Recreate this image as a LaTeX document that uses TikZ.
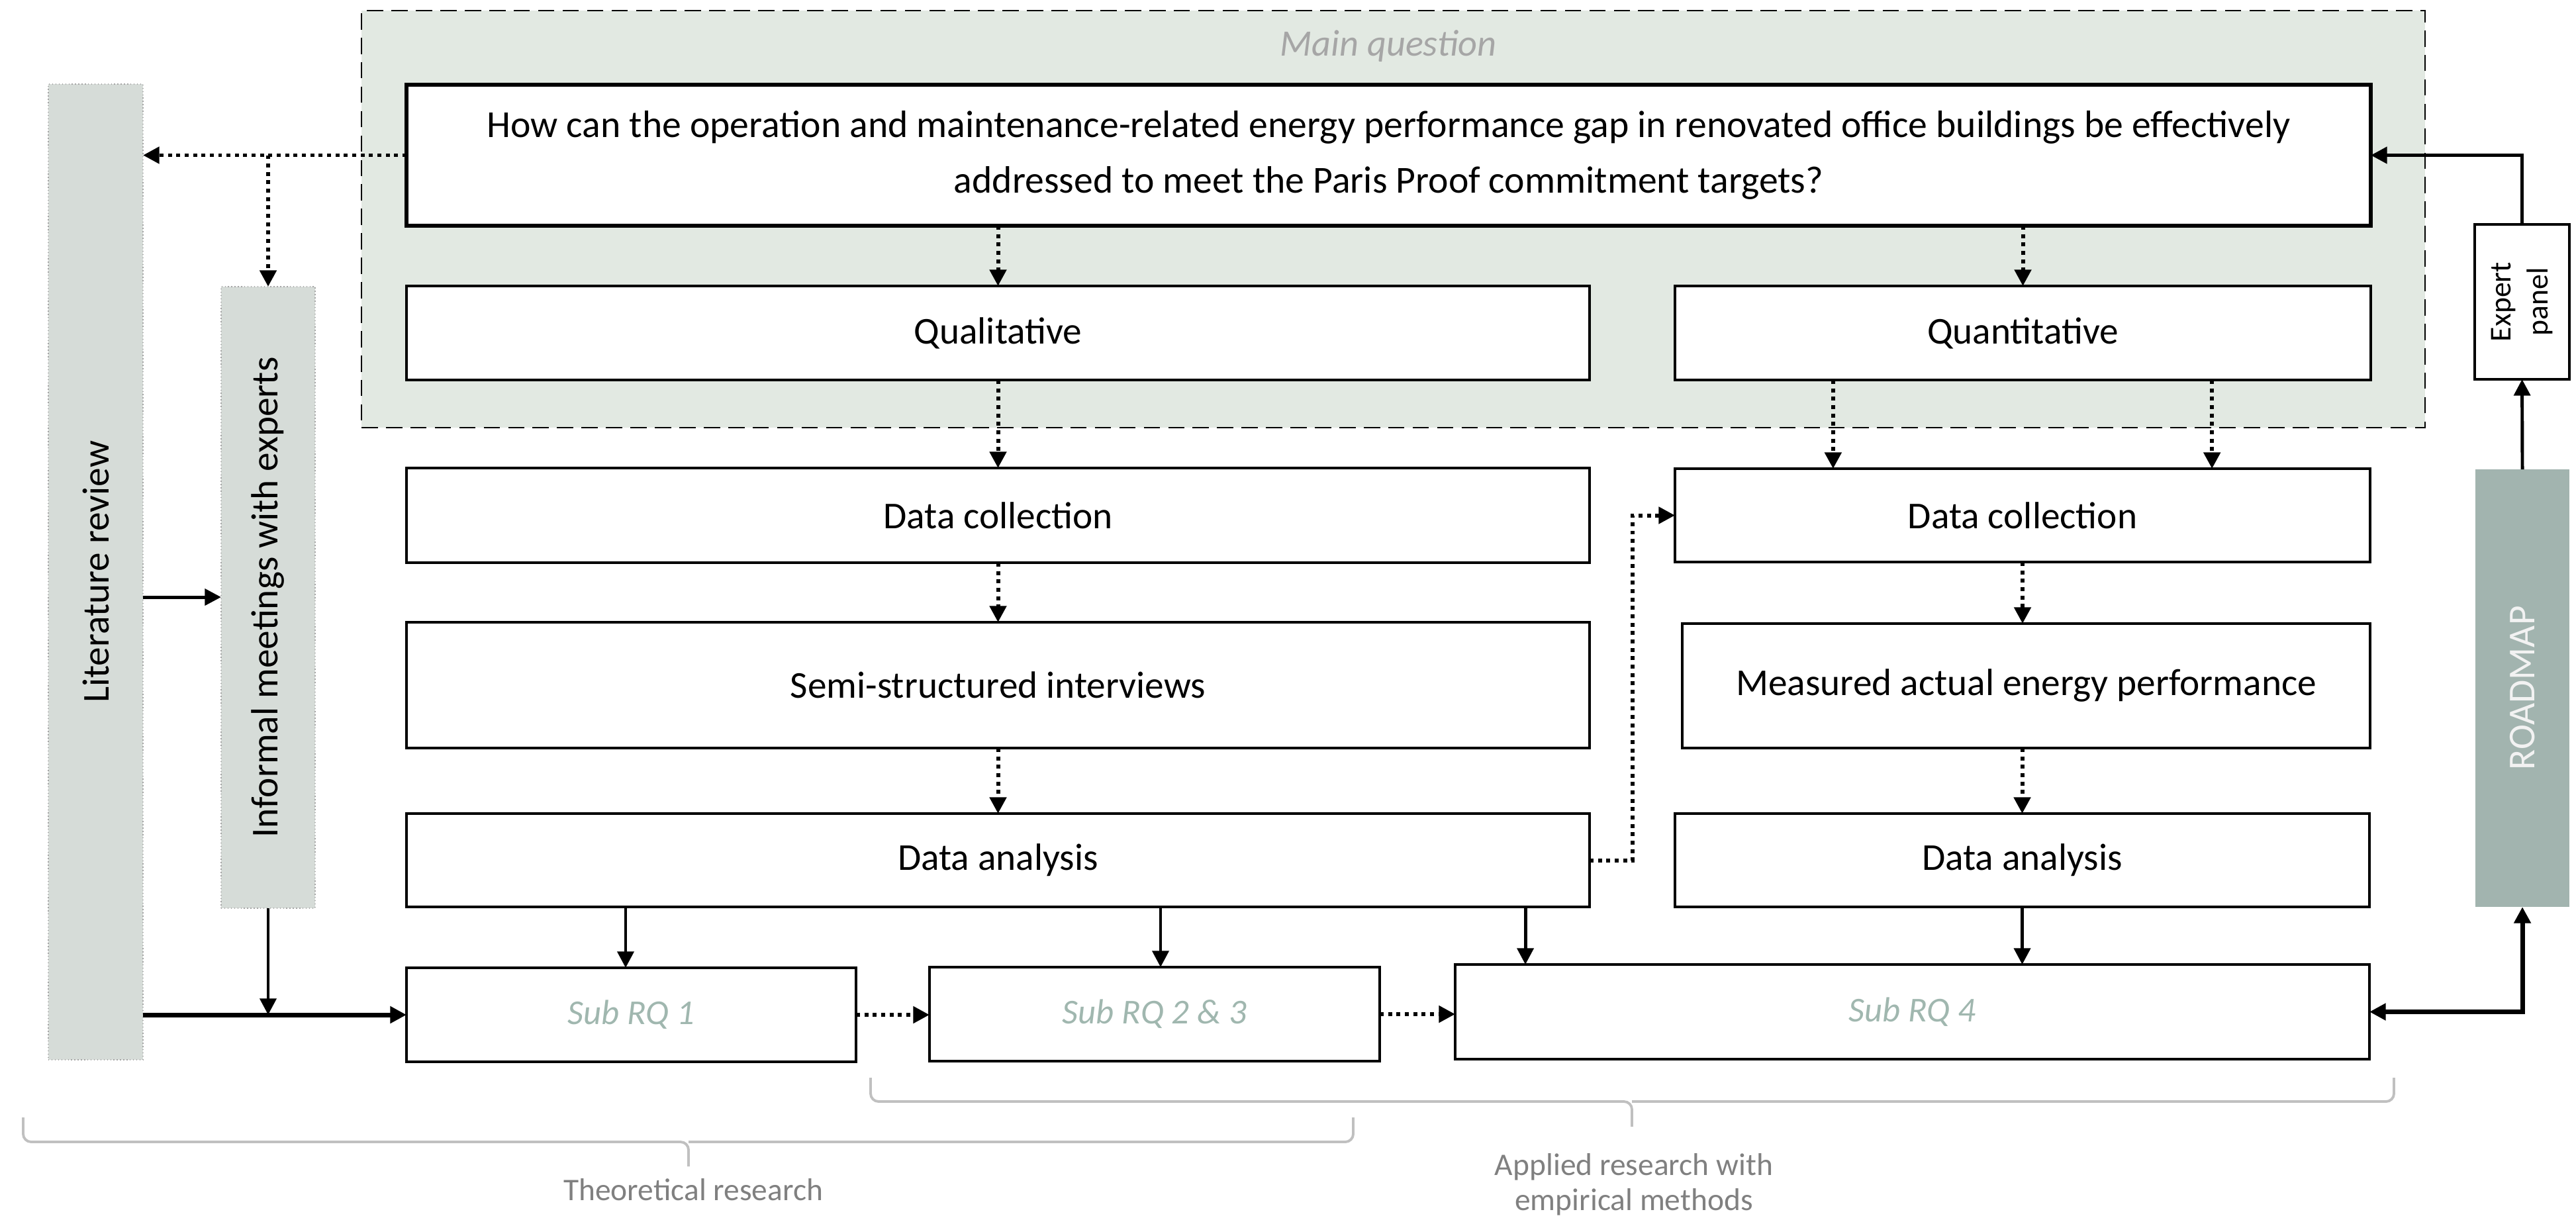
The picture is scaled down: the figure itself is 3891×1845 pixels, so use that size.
\documentclass[tikz,border=0pt]{standalone}
\usepackage{fontspec}
\setmainfont{Carlito}
\usetikzlibrary{arrows.meta,calc}

\definecolor{mqbg}{RGB}{226,233,226}
\definecolor{sidefill}{RGB}{214,220,216}
\definecolor{sideline}{RGB}{165,165,165}
\definecolor{roadfill}{RGB}{162,180,175}
\definecolor{roadtext}{RGB}{242,242,242}
\definecolor{subtext}{RGB}{160,183,175}
\definecolor{mqtext}{RGB}{166,166,166}
\definecolor{bracecol}{RGB}{192,192,192}
\definecolor{bracetext}{RGB}{128,128,128}

\tikzset{
  x=0.01cm, y=-0.01cm,
  box/.style={draw=black, fill=white, line width=0.9pt, inner sep=0pt, outer sep=0pt,
    align=center, font=\fontsize{16.3}{24}\selectfont},
  qbox/.style={box, line width=1.5pt, font=\fontsize{16.4}{24}\selectfont},
  subbox/.style={box, font=\fontsize{15}{18}\selectfont\itshape, text=subtext},
  sidebox/.style={draw=sideline, densely dotted, line width=0.4pt, fill=sidefill, inner sep=0pt, outer sep=0pt},
  roadbox/.style={fill=roadfill, inner sep=0pt, outer sep=0pt},
  mainarea/.style={draw=black, fill=mqbg, line width=0.8pt, dash pattern=on 7pt off 3.5pt, inner sep=0pt, outer sep=0pt},
  vtext/.style={rotate=90, font=\fontsize{16.3}{20}\selectfont, align=center, inner sep=0pt},
  tip/.style={-{Triangle[length=7pt,width=7pt]}},
  arr/.style={tip, line width=1.4pt},
  thickarr/.style={tip, line width=2pt},
  dotarr/.style={tip, line width=1.7pt, dash pattern=on 1.7pt off 1.9pt},
  bracepath/.style={draw=bracecol, line width=1.1pt, rounded corners=0.12cm},
  bracelabel/.style={text=bracetext, font=\fontsize{13.5}{15}\selectfont, align=center, inner sep=0pt},
  mqlabel/.style={text=mqtext, font=\fontsize{16}{20}\selectfont\itshape, inner sep=0pt},
}

% \mkbox{name}{style}{x1}{y1}{x2}{y2}{text}
\newcommand\mkbox[7]{%
  \node[#2, minimum width={(#5-#3)*0.01cm}, minimum height={(#6-#4)*0.01cm}]
    (#1) at ({(#3+#5)/2},{(#4+#6)/2}) {#7};}

\begin{document}
\begin{tikzpicture}
\useasboundingbox (0,0) rectangle (3891,1845);

% main question area
\mkbox{area}{mainarea}{546}{16}{3663}{646}{}
\node[mqlabel] (mq) at (2097,70) {Main question};

% side columns
\mkbox{lit}{sidebox}{73}{127}{216}{1601}{}
\node[vtext] (littext) at (lit) {Literature review};
\mkbox{inf}{sidebox}{334}{433}{476}{1372}{}
\node[vtext] (inftext) at (inf) {Informal meetings with experts};

% research question and method boxes
\mkbox{q}{qbox}{614}{128}{3581}{341}{How can the operation and maintenance-related energy performance gap in renovated office buildings be effectively\\addressed to meet the Paris Proof commitment targets?}
\mkbox{qual}{box}{614}{432}{2401}{574}{Qualitative}
\mkbox{quant}{box}{2530}{432}{3581}{574}{Quantitative}
\mkbox{dc1}{box}{614}{707}{2401}{850}{Data collection}
\mkbox{dc2}{box}{2530}{708}{3580}{849}{Data collection}
\mkbox{ssi}{box}{614}{940}{2401}{1130}{Semi-structured interviews}
\mkbox{mea}{box}{2541}{942}{3580}{1130}{Measured actual energy performance}
\mkbox{da1}{box}{614}{1229}{2401}{1370}{Data analysis}
\mkbox{da2}{box}{2530}{1229}{3579}{1370}{Data analysis}
\mkbox{s1}{subbox}{614}{1462}{1293}{1604}{Sub RQ 1}
\mkbox{s23}{subbox}{1404}{1461}{2084}{1603}{Sub RQ 2 \& 3}
\mkbox{s4}{subbox}{2198}{1457}{3579}{1600}{Sub RQ 4}

% right column
\mkbox{exp}{box}{3738}{339}{3881}{573}{}
\node[vtext, font=\fontsize{13}{16}\selectfont] (exptext) at (exp) {Expert\\panel};
\mkbox{road}{roadbox}{3739}{709}{3881}{1370}{}
\node[vtext, text=roadtext] (roadtext) at (road) {ROADMAP};

% dotted connectors
\draw[dotarr] (q.west) -- (lit.east |- q.west);
\draw[dotarr] (inf.north |- q.west) -- (inf.north);
\draw[dotarr] (qual.north |- q.south) -- (qual.north);
\draw[dotarr] (quant.north |- q.south) -- (quant.north);
\draw[dotarr] (qual.south) -- (dc1.north);
\draw[dotarr] ([xshift=-2.865cm]quant.south) -- ([xshift=-2.865cm]quant.south |- dc2.north);
\draw[dotarr] ([xshift=2.855cm]quant.south) -- ([xshift=2.855cm]quant.south |- dc2.north);
\draw[dotarr] (dc1.south) -- (ssi.north);
\draw[dotarr] (ssi.south) -- (da1.north);
\draw[dotarr] (dc2.south) -- (dc2.south |- mea.north);
\draw[dotarr] (da2.north |- mea.south) -- (da2.north);
\draw[dotarr] (da1.east) -- ++(65,0) |- (dc2.west);
\draw[dotarr] (s1.east) -- (s1.east -| s23.west);
\draw[dotarr] (s23.east) -- (s23.east -| s4.west);

% solid connectors
\draw[arr] ([yshift=-0.38cm]lit.east) -- ([yshift=-0.38cm]lit.east -| inf.west);
\draw[thickarr] (lit.east |- s1.west) -- (s1.west);
\draw[arr] (inf.south) -- (inf.south |- s1.west);
\draw[arr] ([xshift=-0.085cm]s1.north |- da1.south) -- ([xshift=-0.085cm]s1.north);
\draw[arr] ([xshift=0.09cm]s23.north |- da1.south) -- ([xshift=0.09cm]s23.north);
\draw[arr] ([xshift=1.06cm]s4.north west |- da1.south) -- ([xshift=1.06cm]s4.north west);
\draw[arr] (da2.south) -- (da2.south |- s4.north);
\draw[thickarr, {Triangle[length=7pt,width=7pt]}-{Triangle[length=7pt,width=7pt]}] (s4.east) -| (road.south);
\draw[arr] (road.north) -- (exp.south);
\draw[arr, line width=1.6pt] (exp.north) |- (q.east);

% braces
\draw[bracepath] (35,1688) -- (35,1725) -- (1040,1725) -- (1040,1762);
\draw[bracepath] (1040,1725) -- (2044,1725) -- (2044,1688);
\node[bracelabel] (theory) at (1047,1797) {Theoretical research};
\draw[bracepath] (1315,1628) -- (1315,1664) -- (2465,1664) -- (2465,1702);
\draw[bracepath] (2465,1664) -- (3616,1664) -- (3616,1628);
\node[bracelabel] (applied) at (2468,1789) {Applied research with\\empirical methods};
\end{tikzpicture}
\end{document}
